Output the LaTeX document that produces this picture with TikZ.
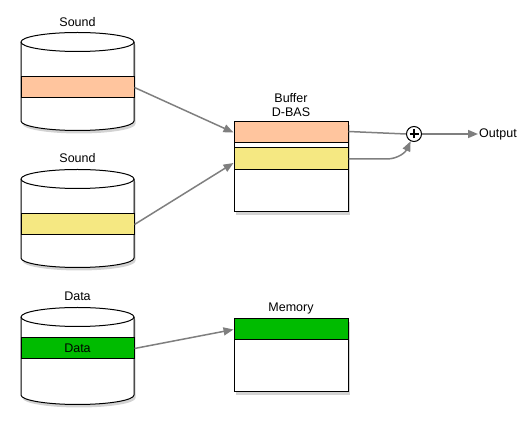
\documentclass[tikz,border=0pt]{standalone}
\usepackage{fontspec}
\setmainfont{Liberation Sans}
\usepackage{xcolor}
\usetikzlibrary{positioning, arrows.meta, shadows}

\definecolor{bandorange}{HTML}{FFC59E}
\definecolor{bandyellow}{HTML}{F5E882}
\definecolor{bandgreen}{HTML}{00BB00}
\definecolor{linkgray}{HTML}{7F7F7F}

\tikzset{
    shade/.style={drop shadow={shadow xshift=1.5pt, shadow yshift=-3pt, opacity=0.35}},
    cyl/.style={draw, line width=1pt, fill=white, shade},
    band/.style={draw, line width=1pt, minimum width=113pt, minimum height=21pt, inner sep=0pt},
    store/.style={draw, line width=1pt, fill=white, minimum width=114pt, inner sep=0pt, shade},
    link/.style={draw=linkgray, line width=1.5pt, -{Triangle[length=10pt, width=8pt]}},
    lbl/.style={font=\fontsize{12.5}{14}\selectfont, align=center}
}

\begin{document}
\begin{tikzpicture}[x=1pt, y=1pt]
    \useasboundingbox (0,0) rectangle (522,428);
    % first sound store
    \begin{scope}[shift={(21,307)}]
        \draw[cyl] (0,79) -- (0,0) arc[start angle=180, end angle=360, x radius=56.5, y radius=9.5]
            -- (113,79) arc[start angle=0, end angle=180, x radius=56.5, y radius=9.5] -- cycle;
        \node[band, fill=bandorange] (snda) at (56.5,33.5) {};
        \draw[line width=1pt] (0,79) arc[start angle=180, end angle=360, x radius=56.5, y radius=9.5];
        \node[lbl] (sndalbl) at (56.5,99) {Sound};
    \end{scope}
    % second sound store
    \begin{scope}[shift={(21,170)}]
        \draw[cyl] (0,79) -- (0,0) arc[start angle=180, end angle=360, x radius=56.5, y radius=9.5]
            -- (113,79) arc[start angle=0, end angle=180, x radius=56.5, y radius=9.5] -- cycle;
        \node[band, fill=bandyellow] (sndb) at (56.5,33.5) {};
        \draw[line width=1pt] (0,79) arc[start angle=180, end angle=360, x radius=56.5, y radius=9.5];
        \node[lbl] (sndblbl) at (56.5,100) {Sound};
    \end{scope}
    % data store
    \begin{scope}[shift={(21,33)}]
        \draw[cyl] (0,78) -- (0,0) arc[start angle=180, end angle=360, x radius=56.5, y radius=9.5]
            -- (113,78) arc[start angle=0, end angle=180, x radius=56.5, y radius=9.5] -- cycle;
        \node[band, fill=bandgreen, lbl] (dat) at (56.5,46.5) {Data};
        \draw[line width=1pt] (0,78) arc[start angle=180, end angle=360, x radius=56.5, y radius=9.5];
        \node[lbl] (datlbl) at (56.5,99) {Data};
    \end{scope}
    % buffer
    \node[store, minimum height=90pt] (buf) at (291,261) {};
    \node[band, minimum width=114pt, fill=bandorange] (bufa) at (291,295.5) {};
    \node[band, minimum width=114pt, minimum height=22pt, fill=bandyellow] (bufb) at (291,269) {};
    \node[lbl, above=1pt of buf] (buflbl) {Buffer\\D-BAS};
    % memory
    \node[store, minimum height=73pt] (mem) at (291,72.5) {};
    \node[band, minimum width=114pt, fill=bandgreen] (memg) at (291,98.5) {};
    \node[lbl, above=1pt of mem] (memlbl) {Memory};
    % mixing
    \node[draw, circle, line width=1pt, fill=white, minimum size=15pt, inner sep=0pt] (sum) at (414,294) {};
    \draw[line width=1.2pt] ([xshift=-4.5pt]sum.center) -- ([xshift=4.5pt]sum.center);
    \draw[line width=1.2pt] ([yshift=-4.5pt]sum.center) -- ([yshift=4.5pt]sum.center);
    \node[lbl, anchor=west, inner sep=1pt] (out) at (478,294) {Output};
    % links
    \draw[link] (snda.east) -- (bufa.west);
    \draw[link] (sndb.east) -- ([yshift=-4pt]bufb.west);
    \draw[link] (dat.east) -- (memg.west);
    \draw[link, -] ([yshift=1pt]bufa.east) -- (sum.west);
    \draw[link] (bufb.east) -- ++(38,0) to[out=0, in=-115] (sum.-115);
    \draw[link] (sum.east) -- (out.west);
\end{tikzpicture}
\end{document}
